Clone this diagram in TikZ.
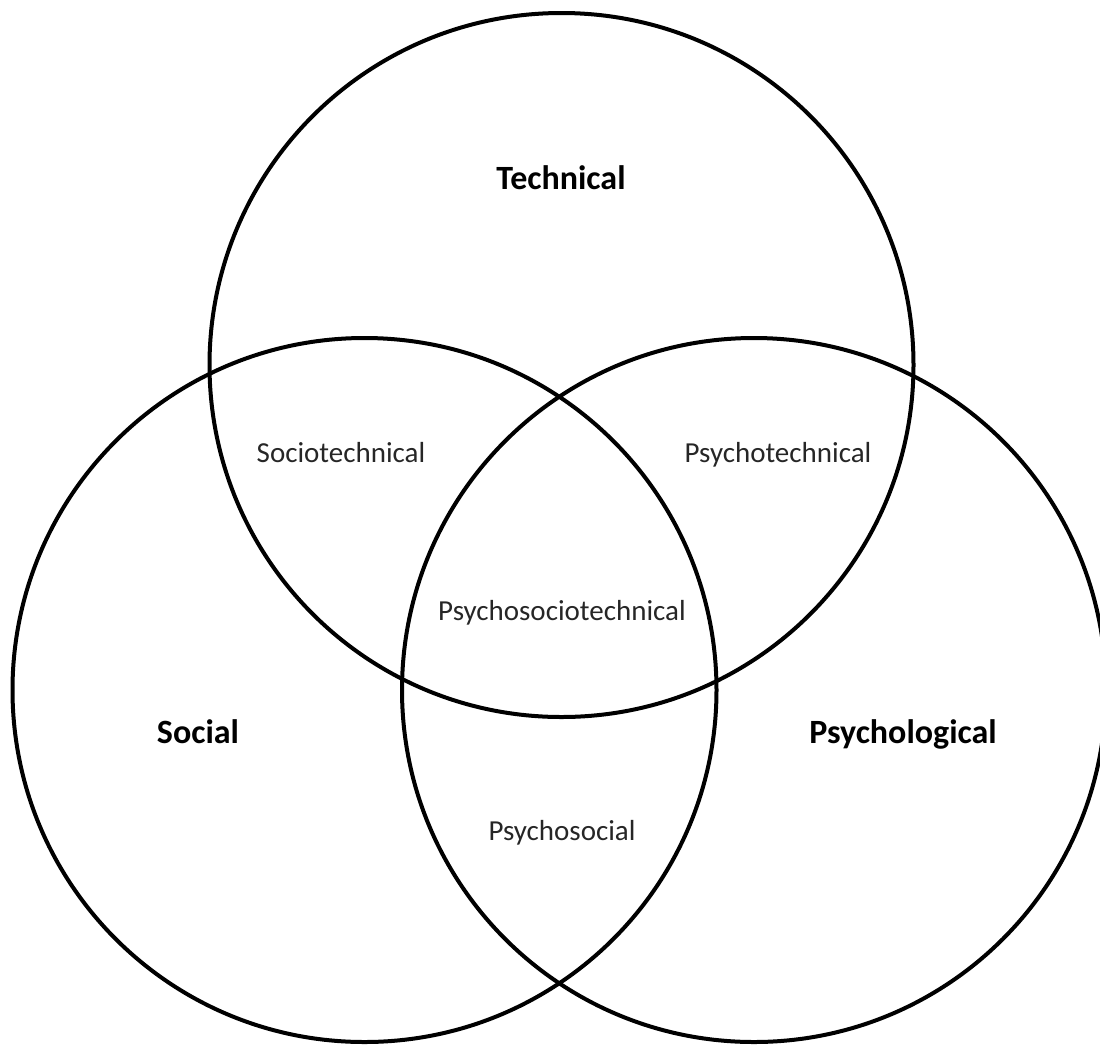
\documentclass[tikz,border=0pt]{standalone}
\usepackage{fontspec}
\setmainfont{Carlito}
\begin{document}
\begin{tikzpicture}[x=1pt,y=-1pt,
  ring/.style={draw=black,line width=4pt,circle,minimum size=704pt,inner sep=0pt},
  small/.style={font=\fontsize{29}{34}\selectfont,text=black!85,anchor=base,inner sep=0pt},
  big/.style={font=\fontsize{34}{40}\selectfont\bfseries,text=black,anchor=base,inner sep=0pt}]
\useasboundingbox (0,0) rectangle (1100,1045);
\begin{scope}
\clip (0,0) rectangle (1100,1045);
\node[ring] (tech) at (561.5,365) {};
\node[ring] (soc) at (364.5,690) {};
\node[ring] (psy) at (754,690) {};
\end{scope}
\node[big] (t) at (561,189) {Technical};
\node[big] (s) at (198,743) {Social};
\node[big] (p) at (903,743) {Psychological};
\node[small] (st) at (341,462) {Sociotechnical};
\node[small] (pt) at (778,462) {Psychotechnical};
\node[small] (pst) at (562,620) {Psychosociotechnical};
\node[small] (ps) at (562,840) {Psychosocial};
\end{tikzpicture}
\end{document}
